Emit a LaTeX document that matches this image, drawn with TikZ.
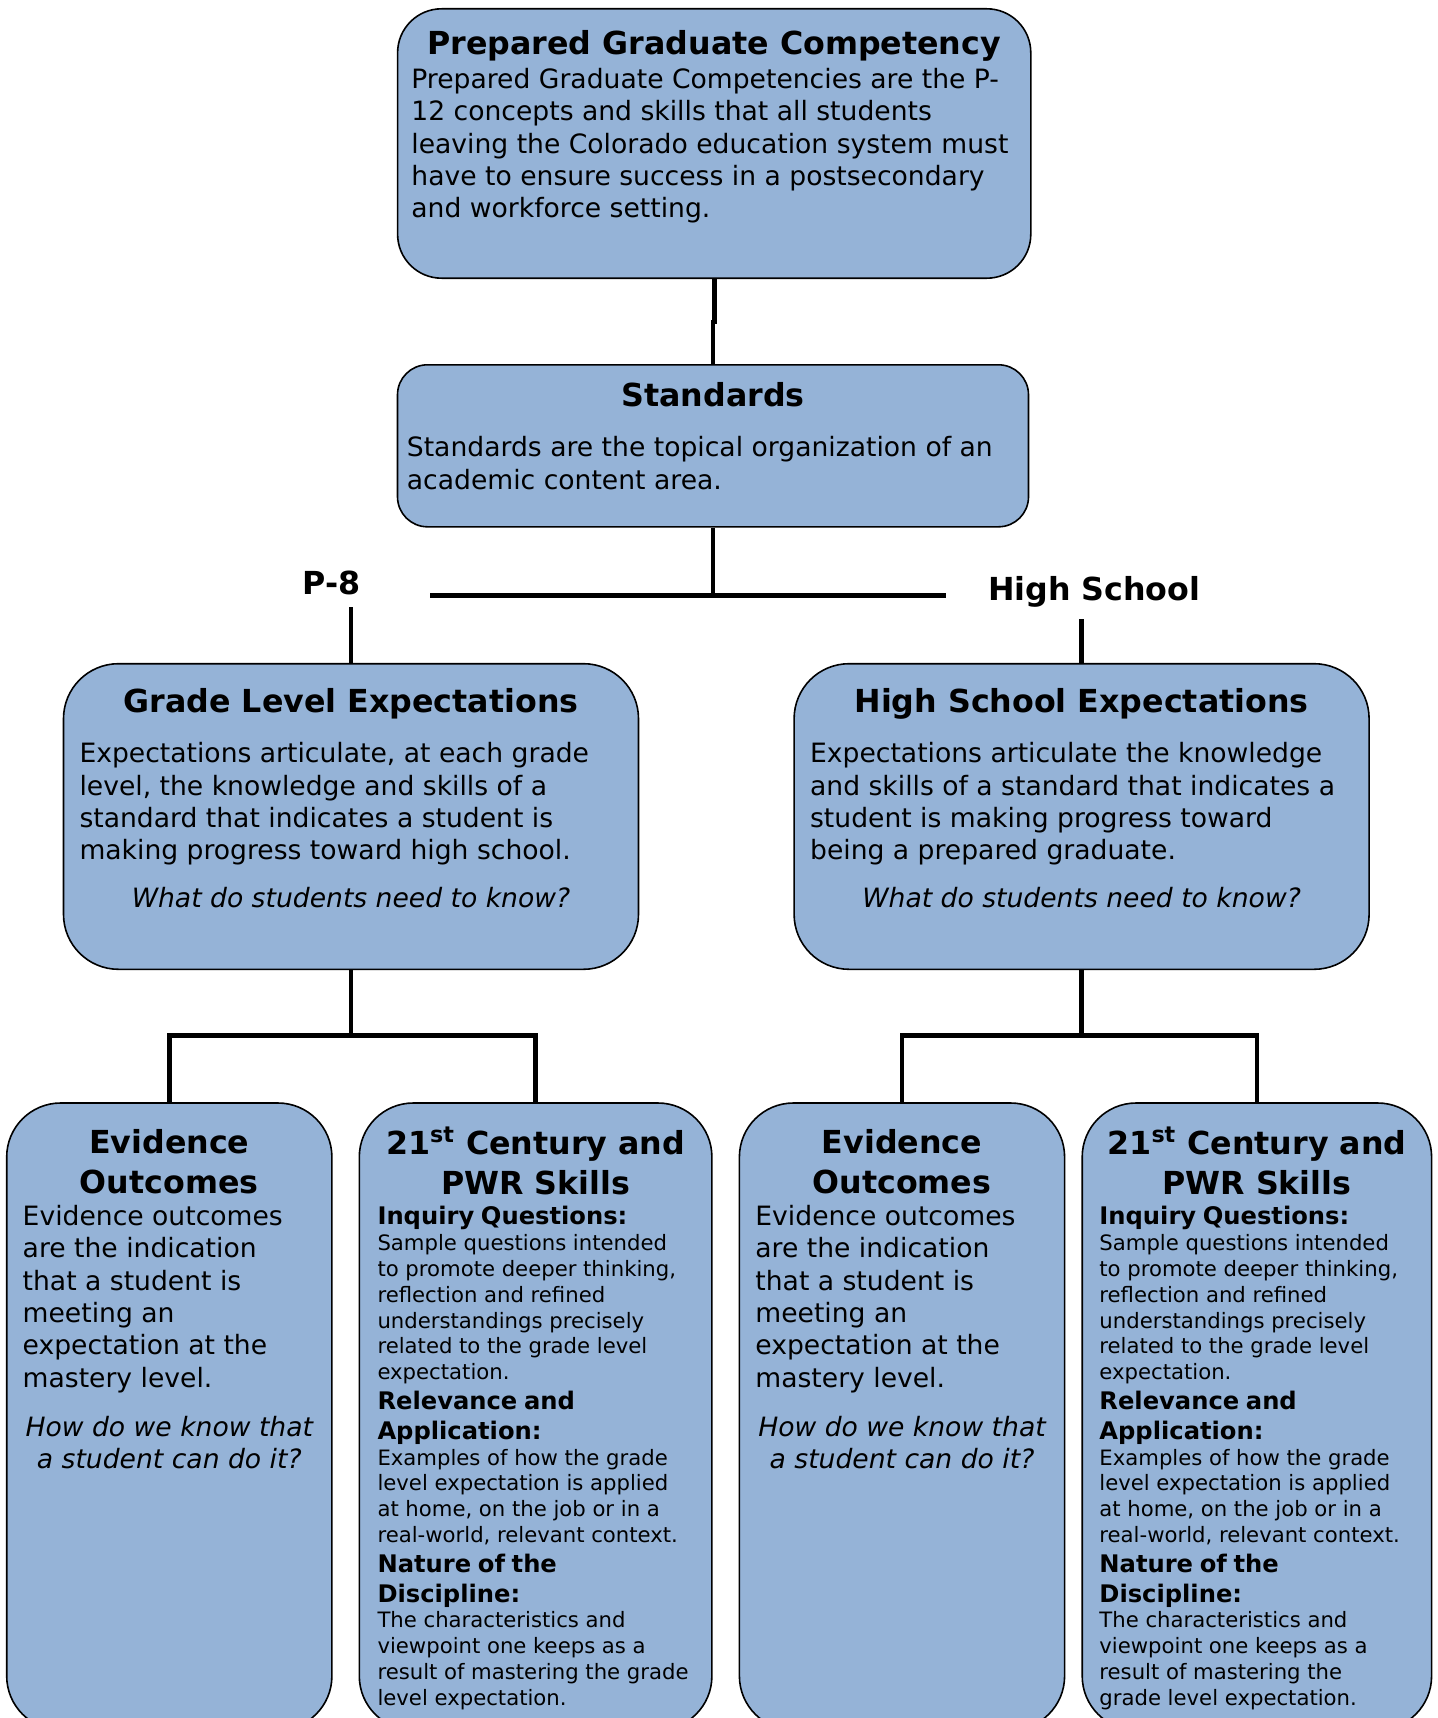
\documentclass[tikz,border=0pt]{standalone}
\usepackage{fontspec}
\setmainfont{DejaVu Sans}
\usepackage{xcolor}
\usepackage{tikz}
\usetikzlibrary{positioning}
\definecolor{boxblue}{RGB}{149,179,215}
\def\tf{\fontsize{15.85}{19.7}\selectfont\bfseries}
\def\bdf{\fontsize{13.3}{16.15}\selectfont}
\def\itf{\fontsize{13.3}{16.4}\selectfont\itshape}
\def\hf{\fontsize{12.1}{14.9}\selectfont\bfseries}
\def\smf{\fontsize{10.6}{12.9}\selectfont}

\begin{document}
\begin{tikzpicture}[x=0.5pt, y=-0.5pt,
    box/.style={draw=black, line width=0.8pt, fill=boxblue, inner sep=0pt},
    conn/.style={line width=2.4pt},
    txt/.style={inner sep=0pt, align=left, anchor=north west},
    ttl/.style={inner sep=0pt, align=center, anchor=north}]
          \useasboundingbox (0,0) rectangle (1437,1718);
          \clip (0,0) rectangle (1437,1718);
          % boxes
          \node[box, rounded corners=22pt, minimum width=316.6pt, minimum height=134.7pt] (pgc) at (714.2,143.5) {};
          \node[box, rounded corners=15pt, minimum width=315.5pt, minimum height=81pt] (std) at (713,445.8) {};
          \node[box, rounded corners=27.5pt, minimum width=287.5pt, minimum height=152.8pt] (gle) at (351,816.5) {};
          \node[box, rounded corners=27.5pt, minimum width=287.5pt, minimum height=152.8pt] (hse) at (1081.6,816.5) {};
          \node[box, rounded corners=27pt, minimum width=162.6pt, minimum height=313.5pt] (eoa) at (169.3,1416.5) {};
          \node[box, rounded corners=27pt, minimum width=176.3pt, minimum height=313.5pt] (cena) at (535.6,1416.5) {};
          \node[box, rounded corners=27pt, minimum width=162.6pt, minimum height=313.5pt] (eob) at (902,1416.5) {};
          \node[box, rounded corners=27pt, minimum width=174.7pt, minimum height=313.5pt] (cenb) at (1256.9,1416.5) {};
          % connectors
          \draw[conn] (pgc.south) -- ++(0,43) -| (std.north);
          \coordinate (bl) at (430.4,595.8);
          \coordinate (br) at (946.3,595.8);
          \draw[conn] (bl) -- (br);
          \draw[conn] (std.south) -- (std.south |- bl);
          \draw[conn] (gle.north) -- ++(0,-55.8);
          \draw[conn] (hse.north) -- ++(0,-43.8);
          \draw[conn] (gle.south) -- ++(0,65.7) coordinate (gj);
          \draw[conn] (eoa.north) |- (gj) -| (cena.north);
          \draw[conn] (hse.south) -- ++(0,65.7) coordinate (hj);
          \draw[conn] (eob.north) |- (hj) -| (cenb.north);
          \node[font=\tf, inner sep=0pt] (pl) at (331.9,582.7) {P-8};
          \node[font=\tf, inner sep=0pt] (hl) at (1094.2,591.5) {High School};
          % top
          \node[ttl, font=\tf] (pgct) at ([yshift=-11.2pt]pgc.north) {Prepared Graduate Competency};
          \node[txt, font=\bdf] (pgcb) at ([xshift=7.1pt, yshift=-30pt]pgc.north west) {Prepared Graduate Competencies are the P-\\12 concepts and skills that all students\\leaving the Colorado education system must\\have to ensure success in a postsecondary\\and workforce setting.};
          \node[ttl, font=\tf] (stdt) at ([yshift=-9.2pt]std.north) {Standards};
          \node[txt, font=\bdf] (stdb) at ([xshift=4.9pt, yshift=-36.1pt]std.north west) {Standards are the topical organization of an\\academic content area.};
          % expectations
          \node[ttl, font=\tf] (glet) at ([yshift=-12.6pt]gle.north) {Grade Level Expectations};
          \node[txt, font=\bdf] (gleb) at ([xshift=8.2pt, yshift=-39.7pt]gle.north west) {Expectations articulate, at each grade\\level, the knowledge and skills of a\\standard that indicates a student is\\making progress toward high school.};
          \node[ttl, font=\itf] (gleq) at ([yshift=-112.2pt]gle.north) {What do students need to know?};
          \node[ttl, font=\tf] (hset) at ([yshift=-12.6pt]hse.north) {High School Expectations};
          \node[txt, font=\bdf] (hseb) at ([xshift=8.2pt, yshift=-39.7pt]hse.north west) {Expectations articulate the knowledge\\and skills of a standard that indicates a\\student is making progress toward\\being a prepared graduate.};
          \node[ttl, font=\itf] (hseq) at ([yshift=-112.2pt]hse.north) {What do students need to know?};
          % evidence outcomes
          \foreach \b in {eoa, eob} {
            \node[ttl, font=\tf] (\b t) at ([yshift=-13.6pt]\b.north) {Evidence\\Outcomes};
            \node[txt, font=\bdf] (\b b) at ([xshift=8.2pt, yshift=-51.4pt]\b.north west) {Evidence outcomes\\are the indication\\that a student is\\meeting an\\expectation at the\\mastery level.};
            \node[ttl, font=\itf] (\b q) at ([yshift=-156.6pt]\b.north) {How do we know that\\a student can do it?};
          }
          % 21st century
          \node[ttl, font=\tf] (cenat) at ([yshift=-12pt]cena.north) {21\textsuperscript{st} Century and\\PWR Skills};
          \node[txt, text width=170pt] (cenab) at ([xshift=9.3pt, yshift=-51.9pt]cena.north west) {{\hf Inquiry Questions:\par}{\smf Sample questions intended\\to promote deeper thinking,\\reflection and refined\\understandings precisely\\related to the grade level\\expectation.\par}{\hf Relevance and\\Application:\par}{\smf Examples of how the grade\\level expectation is applied\\at home, on the job or in a\\real-world, relevant context.\par}{\hf Nature of the\\Discipline:\par}{\smf The characteristics and\\viewpoint one keeps as a\\result of mastering the grade\\level expectation.\par}};
          \node[ttl, font=\tf] (cenbt) at ([yshift=-12pt]cenb.north) {21\textsuperscript{st} Century and\\PWR Skills};
          \node[txt, text width=170pt] (cenbb) at ([xshift=8.8pt, yshift=-51.9pt]cenb.north west) {{\hf Inquiry Questions:\par}{\smf Sample questions intended\\to promote deeper thinking,\\reflection and refined\\understandings precisely\\related to the grade level\\expectation.\par}{\hf Relevance and\\Application:\par}{\smf Examples of how the grade\\level expectation is applied\\at home, on the job or in a\\real-world, relevant context.\par}{\hf Nature of the\\Discipline:\par}{\smf The characteristics and\\viewpoint one keeps as a\\result of mastering the\\grade level expectation.\par}};
        \end{tikzpicture}
\end{document}
